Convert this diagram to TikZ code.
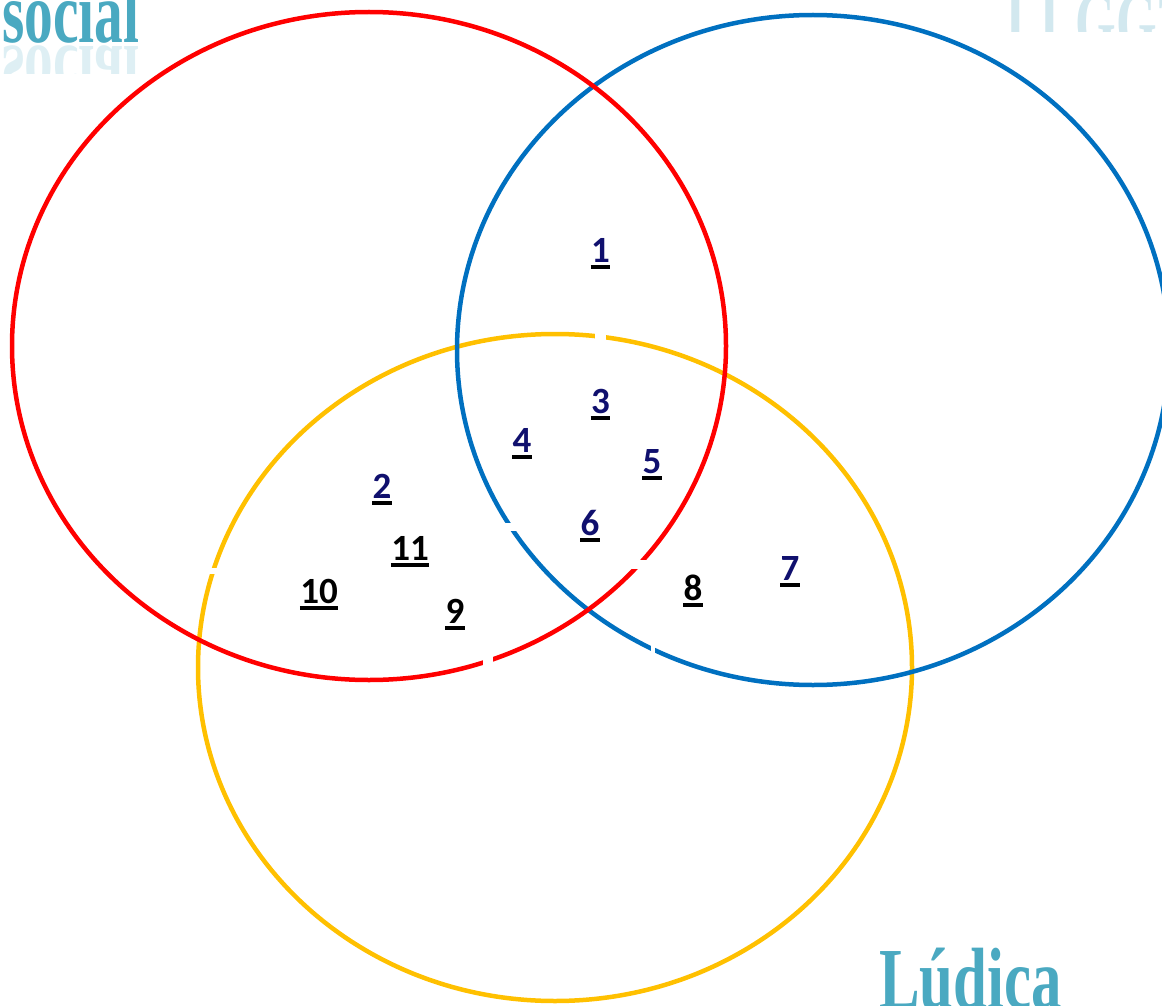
\documentclass[tikz,border=0pt]{standalone}
\usepackage{fontspec}
\newfontfamily\numfont{Carlito}
\newfontfamily\titlefont{Liberation Serif}
\definecolor{vred}{HTML}{FF0000}
\definecolor{vblue}{HTML}{0070C0}
\definecolor{vyellow}{HTML}{FFC000}
\definecolor{navynum}{HTML}{10106E}
\definecolor{tealtitle}{HTML}{4AA9C1}
\definecolor{tealfaint}{HTML}{D2E8EF}
\newcommand{\ulnum}[1]{\vtop{\hbox{\kern0.5pt#1\kern0.5pt}\kern3pt{\color{black}\hrule height 3.5pt}}}
\begin{document}
\begin{tikzpicture}[x=1pt,y=-1pt,
  num/.style={font=\numfont\bfseries\fontsize{37}{40}\selectfont, anchor=base, inner sep=0pt},
  navyn/.style={num, text=navynum},
  blackn/.style={num, text=black},
  ring/.style={line width=4.5pt},
  title/.style={font=\titlefont\bfseries\fontsize{87}{90}\selectfont, inner sep=0pt, anchor=base west},
  gap/.style={fill=white}]
\useasboundingbox (0,0) rectangle (1162,1006);
% circles
\draw[ring, vyellow] (555,667.5) ellipse [x radius=357pt, y radius=333.5pt];
\draw[ring, vblue] (813,350) ellipse [x radius=356pt, y radius=335pt];
\draw[ring, vred] (369,346) ellipse [x radius=357pt, y radius=334pt];
% small white gaps
\fill[gap] (595,325) rectangle (606,345);
\fill[gap] (200,568) rectangle (222,574);
\fill[gap] (500,523) rectangle (520,531);
\fill[gap] (630,560) rectangle (655,569);
\fill[gap] (483,650) rectangle (493,670);
\fill[gap] (651,640) rectangle (655,660);
% numbers
\node[navyn] (n1) at (600.5,262) {\ulnum{1}};
\node[navyn] (n3) at (600.5,413) {\ulnum{3}};
\node[navyn] (n4) at (522,452) {\ulnum{4}};
\node[navyn] (n5) at (652,473) {\ulnum{5}};
\node[navyn] (n2) at (382,498) {\ulnum{2}};
\node[navyn] (n6) at (590,535) {\ulnum{6}};
\node[navyn] (n7) at (790,580) {\ulnum{7}};
\node[blackn] (n11) at (410,560) {\ulnum{11}};
\node[blackn] (n10) at (319,603) {\ulnum{10}};
\node[blackn] (n9) at (455,623) {\ulnum{9}};
\node[blackn] (n8) at (693,600) {\ulnum{8}};
% titles
\node[title, text=tealtitle, xscale=0.66] (tsocial) at (2,43) {social};
\begin{scope}
\clip (0,45) rectangle (200,74);
\node[title, text=tealtitle, xscale=0.66, yscale=-1, opacity=0.18] (tsocialr) at (2,47) {social};
\end{scope}
\begin{scope}
\clip (990,0) rectangle (1162,32);
\node[title, text=tealfaint, xscale=0.6] (tfaint) at (1006,52) {LLGG2};
\end{scope}
\node[title, text=tealtitle, xscale=0.70] (tludica) at (879,1008) {Lúdica};
\end{tikzpicture}
\end{document}
